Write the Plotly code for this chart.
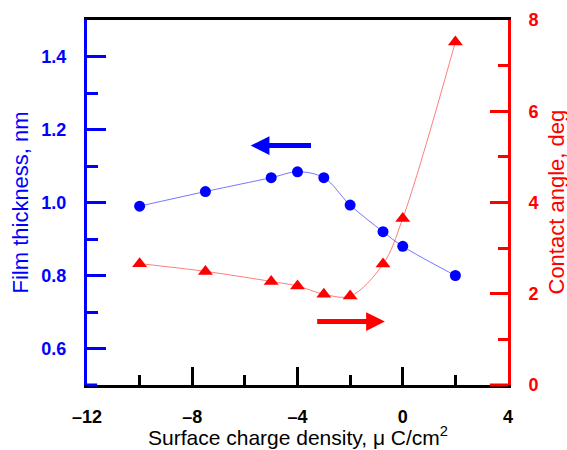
import plotly.graph_objects as go

# Data
charge = [-10, -7.5, -5, -4, -3, -2, -0.75, 0, 2]
thickness = [0.99, 1.03, 1.068, 1.084, 1.068, 0.993, 0.92, 0.88, 0.80]
angle = [2.66, 2.49, 2.27, 2.17, 1.99, 1.95, 2.65, 3.65, 7.52]

x_ticks = [-12, -8, -4, 0, 4]
x_ticktext = ["\u201312", "\u20138", "\u20134", "0", "4"]
left_ticks = [0.6, 0.8, 1.0, 1.2, 1.4]
right_ticks = [0, 2, 4, 6, 8]

FONT = "Liberation Sans, Arial, sans-serif"
BLUE = "#0000ff"
RED = "#ff0000"

fig = go.Figure()
fig.add_trace(go.Scatter(
    x=charge, y=thickness, mode="lines+markers", yaxis="y",
    line=dict(color="rgba(60,60,255,0.7)", width=1, shape="spline", smoothing=1),
    marker=dict(symbol="circle", size=11, color=BLUE),
    showlegend=False))
fig.add_trace(go.Scatter(
    x=charge, y=angle, mode="lines+markers", yaxis="y2",
    line=dict(color="rgba(255,70,70,0.7)", width=1, shape="spline", smoothing=1),
    marker=dict(symbol="triangle-up", size=13, color=RED),
    showlegend=False))

# direction arrows (tip, tail)
blue_arrow = dict(tip=(-5.78, 1.156), tail=(-3.43, 1.156))
red_arrow = dict(tip=(-0.68, 1.39), tail=(-3.31, 1.39))

fig.add_annotation(x=blue_arrow["tip"][0], y=blue_arrow["tip"][1],
                   ax=blue_arrow["tail"][0], ay=blue_arrow["tail"][1],
                   xref="x", yref="y", axref="x", ayref="y",
                   showarrow=True, arrowhead=2, arrowsize=0.75, arrowwidth=5,
                   arrowcolor=BLUE, text="")
fig.add_annotation(x=red_arrow["tip"][0], y=red_arrow["tip"][1],
                   ax=red_arrow["tail"][0], ay=red_arrow["tail"][1],
                   xref="x", yref="y2", axref="x", ayref="y2",
                   showarrow=True, arrowhead=2, arrowsize=0.75, arrowwidth=5,
                   arrowcolor=RED, text="")

# axis titles
fig.add_annotation(text="Surface charge density, \u03bc C/cm<sup>2</sup>",
                   xref="paper", yref="paper", x=0.5, y=0, yshift=-51,
                   xanchor="center", yanchor="middle", showarrow=False,
                   font=dict(size=21, color="black", family=FONT))
fig.add_annotation(text="Film thickness, nm", textangle=-90,
                   xref="paper", yref="paper", x=0, xshift=-67, y=0.5,
                   xanchor="center", yanchor="middle", showarrow=False,
                   font=dict(size=22, color=BLUE, family=FONT))
fig.add_annotation(text="Contact angle, deg", textangle=-90,
                   xref="paper", yref="paper", x=1, xshift=48, y=0.5,
                   xanchor="center", yanchor="middle", showarrow=False,
                   font=dict(size=22, color=RED, family=FONT))

# coloured corners of bottom axis line
fig.add_shape(type="line", xref="paper", yref="paper", x0=0, x1=0.024, y0=0, y1=0,
              line=dict(color=BLUE, width=3))
fig.add_shape(type="line", xref="paper", yref="paper", x0=0.957, x1=1, y0=0, y1=0,
              line=dict(color=RED, width=3))

fig.update_layout(
    width=567, height=450,
    margin=dict(l=87, r=59, t=20, b=65, autoexpand=False),
    paper_bgcolor="white", plot_bgcolor="white",
    font=dict(family=FONT),
    xaxis=dict(
        range=[-12, 4], tickvals=x_ticks, ticktext=x_ticktext,
        ticks="inside", ticklen=18, tickwidth=3, tickcolor="black",
        minor=dict(dtick=2, ticks="inside", ticklen=10, tickwidth=3, tickcolor="black"),
        showline=True, linewidth=3, linecolor="black", mirror=True,
        showgrid=False, zeroline=False, automargin=False,
        tickfont=dict(size=18, color="black", family=FONT, weight="bold"),
        ticklabelstandoff=13,
    ),
    yaxis=dict(
        range=[0.5, 1.5], tickvals=left_ticks, tickformat=".1f",
        ticks="inside", ticklen=19, tickwidth=3, tickcolor=BLUE,
        minor=dict(dtick=0.1, ticks="inside", ticklen=11, tickwidth=3, tickcolor=BLUE),
        showline=True, linewidth=3, linecolor=BLUE,
        showgrid=False, zeroline=False, automargin=False,
        tickfont=dict(size=18, color=BLUE, family=FONT, weight="bold"),
        ticklabelstandoff=14,
    ),
    yaxis2=dict(
        range=[0, 8], tickvals=right_ticks, overlaying="y", side="right",
        ticks="inside", ticklen=18, tickwidth=3, tickcolor=RED,
        minor=dict(dtick=1, ticks="inside", ticklen=10, tickwidth=3, tickcolor=RED),
        showline=True, linewidth=3, linecolor=RED,
        showgrid=False, zeroline=False, automargin=False,
        tickfont=dict(size=18, color=RED, family=FONT, weight="bold"),
        ticklabelstandoff=14,
    ),
)

fig.write_html("out.html", config={"displayModeBar": False},
               post_script="document.body.style.margin='0';")
